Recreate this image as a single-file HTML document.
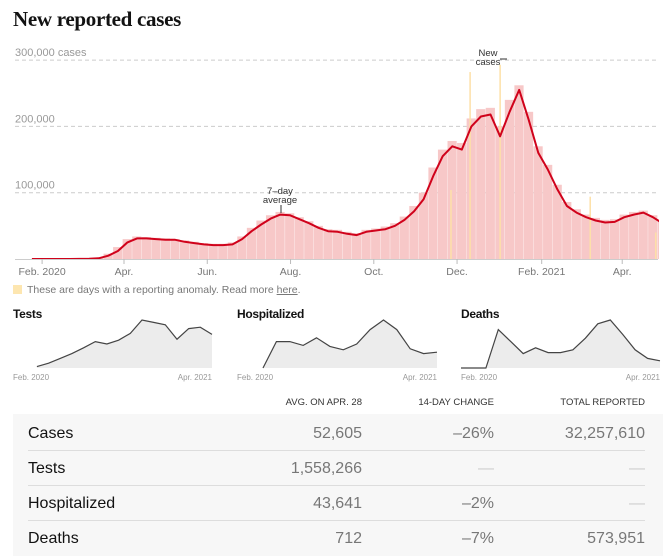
<!DOCTYPE html>
<html><head><meta charset="utf-8">
<style>
body{margin:0;width:668px;height:560px;background:#fff;font-family:"Liberation Sans",sans-serif;overflow:hidden;position:relative}
.t{position:absolute}
h1{position:absolute;left:13px;top:7px;margin:0;font:bold 21px "Liberation Serif",serif;color:#121212;letter-spacing:-0.3px}
.sm{font-size:12px;font-weight:bold;color:#121212;letter-spacing:-0.3px}
.hd{font-size:9.5px;color:#333;letter-spacing:0}
.row{position:absolute;left:28px;width:617px;height:34px;border-bottom:1px solid #ddd;font-size:16px;color:#121212}
.row span{position:absolute;top:9px}
.v{color:#777;text-align:right}
</style></head><body>
<h1>New reported cases</h1>
<svg id="main" width="668" height="300" style="position:absolute;left:0;top:0"></svg>
<div class="t" style="left:13px;top:285px;width:9px;height:9px;background:#fde6b0"></div>
<div class="t" style="left:27px;top:284px;font-size:10.5px;color:#777">These are days with a reporting anomaly. Read more <u>here</u>.</div>
<div class="t sm" style="left:13px;top:307px">Tests</div>
<div class="t sm" style="left:237px;top:307px">Hospitalized</div>
<div class="t sm" style="left:461px;top:307px">Deaths</div>
<svg id="spark" width="668" height="90" style="position:absolute;left:0;top:310px"></svg>
<div class="t hd" style="left:255px;top:397px;width:107px;text-align:right">AVG. ON APR. 28</div>
<div class="t hd" style="left:400px;top:397px;width:94px;text-align:right">14-DAY CHANGE</div>
<div class="t hd" style="left:530px;top:397px;width:115px;text-align:right">TOTAL REPORTED</div>
<div class="t" style="left:13px;top:414px;width:650px;height:142px;background:#f7f7f7"></div>
<div class="row" style="top:416px"><span>Cases</span><span class="v" style="right:283px">52,605</span><span class="v" style="right:151px">–26%</span><span class="v" style="right:0">32,257,610</span></div>
<div class="row" style="top:451px"><span>Tests</span><span class="v" style="right:283px">1,558,266</span><span class="v" style="right:151px;color:#ccc">—</span><span class="v" style="right:0;color:#ccc">—</span></div>
<div class="row" style="top:486px"><span>Hospitalized</span><span class="v" style="right:283px">43,641</span><span class="v" style="right:151px">–2%</span><span class="v" style="right:0;color:#ccc">—</span></div>
<div class="row" style="top:521px;border-bottom:none"><span>Deaths</span><span class="v" style="right:283px">712</span><span class="v" style="right:151px">–7%</span><span class="v" style="right:0">573,951</span></div>
<script>
// weekly 7-day average (thousands), starting Jan 21 2020
const avgValues=[0,0,0,0,0,0.1,0.3,1,5,12,25,31,31,30,29,29,26,24,22,21,21,22,30,42,52,61,67,66,60,54,47,42,41,38,36,41,43,45,50,59,72,90,125,155,170,165,200,215,218,185,222,255,210,160,135,105,80,70,63,58,55,56,63,67,70,63,54];
const barValues=[0,0,0,0,0,0.2,0.5,2,8,18,30,34,33,32,31,30,28,26,24,23,23,25,34,47,58,66,71,69,63,57,50,45,44,41,39,44,46,49,54,64,80,100,138,165,178,175,212,226,228,200,240,262,222,170,142,112,86,75,67,62,59,60,67,71,73,66,56];
const anomalyDays=[239,253,275,341,389];
const anomalyValues=[104,282,293,94,40];
const yTicks=[100000,200000,300000];
const yTickLabels=["100,000","200,000","300,000 cases"];
const xTickDays=[-60,0,61,122,183,244,306,365];
const xTickLabels=["Feb. 2020","Apr.","Jun.","Aug.","Oct.","Dec.","Feb. 2021","Apr."];
const testsVals=[0.03,0.1,0.2,0.3,0.42,0.55,0.5,0.58,0.72,1.0,0.95,0.9,0.6,0.82,0.85,0.7];
const hospVals=[0,0.55,0.55,0.47,0.63,0.45,0.38,0.5,0.8,1.0,0.8,0.4,0.3,0.33];
const deathVals=[0,0,0,0.8,0.55,0.3,0.42,0.32,0.32,0.38,0.62,0.92,1.0,0.7,0.38,0.2,0.15];
const NS="http://www.w3.org/2000/svg";
function mk(p,t,a){const e=document.createElementNS(NS,t);for(const k in a)e.setAttribute(k,a[k]);p.appendChild(e);return e;}
const X=d=>124+d*1.365; // days since Apr 1 2020
const Y=v=>259-v*0.000663;
const W=w=>w*7-71;
const m=document.getElementById('main');
mk(m,'clipPath',{id:'pc'}).appendChild(document.createElementNS(NS,'rect'));
const cr=m.querySelector('#pc rect');cr.setAttribute('x',15);cr.setAttribute('y',0);cr.setAttribute('width',644);cr.setAttribute('height',260);
yTicks.forEach((v,i)=>{const l=mk(m,'line',{x1:15,x2:658,y1:Y(v),y2:Y(v),stroke:'#ccc','stroke-dasharray':'4,3'});


const t=mk(m,'text',{x:15,y:Y(v)-4,'font-size':11,fill:'#999'});t.textContent=yTickLabels[i];

});
const g=mk(m,'g',{'clip-path':'url(#pc)'});
barValues.forEach((v,i)=>{const r=mk(g,'rect',{x:X(W(i)),y:Y(v*1000),width:9.2,height:259-Y(v*1000),fill:'#f7c8c8'});

});
anomalyDays.forEach((d,i)=>{const r=mk(g,'rect',{x:X(d),y:Y(anomalyValues[i]*1000),width:1.5,height:259-Y(anomalyValues[i]*1000),fill:'#fde0a8'});

});
mk(m,'line',{x1:15,x2:658,y1:259.5,y2:259.5,stroke:'#ccc'});
const pts=avgValues.map((v,i)=>X(W(i)+3.5).toFixed(1)+','+Y(v*1000).toFixed(1)).join(' ');
const pl=mk(g,'polyline',{points:pts,fill:'none',stroke:'#d0021b','stroke-width':2,'stroke-linejoin':'round'});


xTickDays.forEach((d,i)=>{mk(m,'line',{x1:X(d),x2:X(d),y1:259,y2:264,stroke:'#bbb'});
const t=mk(m,'text',{x:X(d),y:275,'font-size':10.5,fill:'#777','text-anchor':'middle'});t.textContent=xTickLabels[i];

});
function ann(x,lines,ly){lines.forEach((s,i)=>{const t=mk(m,'text',{x:x,y:ly+i*9,'font-size':9.5,fill:'#333','text-anchor':'middle'});t.textContent=s;

});}
ann(280,["7–day","average"],194);mk(m,'line',{x1:281,x2:281,y1:205,y2:213,stroke:'#333'});
ann(488,["New","cases"],56);mk(m,'line',{x1:500,x2:507,y1:59,y2:59,stroke:'#333'});
const s=document.getElementById('spark');
function spark(vals,x0,x1,startFrac,name){const top=10,base=58;const n=vals.length;const xs=vals.map((v,i)=>x0+(x1-x0)*(startFrac+(1-startFrac)*i/(n-1)));
const p=vals.map((v,i)=>xs[i].toFixed(1)+','+(base-v*(base-top)).toFixed(1));
const a=mk(s,'polygon',{points:xs[0]+','+base+' '+p.join(' ')+' '+xs[n-1]+','+base,fill:'#ececec'});


const l=mk(s,'polyline',{points:p.join(' '),fill:'none',stroke:'#444','stroke-width':1.2});


[["Feb. 2020",x0,'start'],["Apr. 2021",x1,'end']].forEach(q=>{const t=mk(s,'text',{x:q[1],y:70,'font-size':8,fill:'#999','text-anchor':q[2]});t.textContent=q[0];

});}
spark(testsVals,13,212,0.12,'tests');
spark(hospVals,237,437,0.13,'hospitalized');
spark(deathVals,461,660,0,'deaths');
</script>
</body></html>
